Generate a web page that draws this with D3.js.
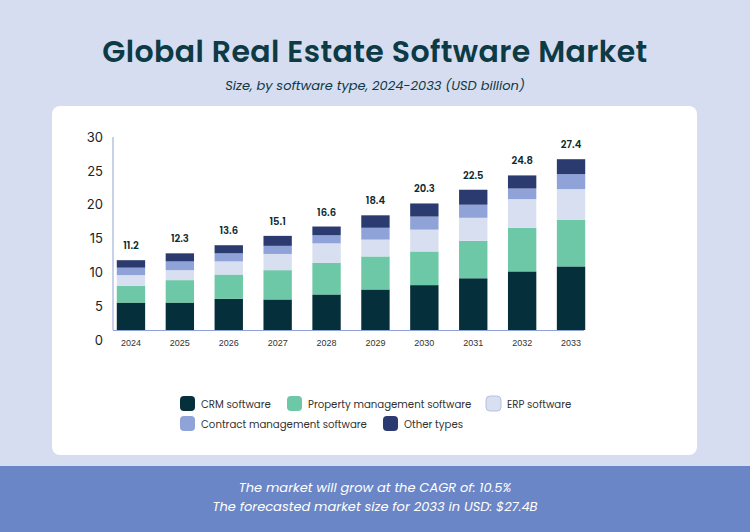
<!DOCTYPE html>
<html><head><meta charset="utf-8">
<script src="https://cdn.jsdelivr.net/npm/d3@7"></script>
<style>body{margin:0;background:#d7ddf0;font-family:Poppins,Inter,"Noto Sans",sans-serif}</style>
</head><body><svg id="c" width="750" height="532"></svg>
<script>
const years = ['2024','2025','2026','2027','2028','2029','2030','2031','2032','2033'];
const crm = [4.4, 4.4, 5.0, 4.9, 5.7, 6.5, 7.2, 8.3, 9.4, 10.2];
const property = [2.7, 3.6, 3.9, 4.7, 5.1, 5.3, 5.4, 6.0, 7.0, 7.5];
const erp = [1.7, 1.6, 2.1, 2.6, 3.1, 2.7, 3.5, 3.7, 4.6, 4.9];
const contract = [1.2, 1.4, 1.3, 1.3, 1.3, 1.9, 2.1, 2.1, 1.7, 2.4];
const other = [1.2, 1.3, 1.3, 1.6, 1.4, 2.0, 2.1, 2.4, 2.1, 2.4];
const totals = [11.2, 12.3, 13.6, 15.1, 16.6, 18.4, 20.3, 22.5, 24.8, 27.4];
const seriesNames = ['CRM software','Property management software','ERP software','Contract management software','Other types'];
const yTicks = [0, 5, 10, 15, 20, 25, 30];

const colors = ['#062f3c', '#6cc8a6', '#d8dff0', '#8fa3d8', '#2b3b70'];
const svg = d3.select('#c');

// card + footer
svg.append('rect').attr('x', 52).attr('y', 106).attr('width', 645).attr('height', 349)
    .attr('rx', 8).attr('fill', '#fff');
svg.append('rect').attr('x', 0).attr('y', 466).attr('width', 750).attr('height', 66).attr('fill', '#6a86c7');

svg.append('text').attr('x', 375).attr('y', 62).attr('text-anchor', 'middle')
    .attr('font-size', 30).attr('font-weight', 600).attr('fill', '#0c3a45').attr('letter-spacing', 0.4)
    .text('Global Real Estate Software Market');
svg.append('text').attr('x', 375).attr('y', 90).attr('text-anchor', 'middle')
    .attr('font-size', 13).attr('font-style', 'italic').attr('fill', '#0c3a45')
    .text('Size, by software type, 2024-2033 (USD billion)');
[['The market will grow at the CAGR of: 10.5%', 492], ['The forecasted market size for 2033 in USD: $27.4B', 511]]
    .forEach(([t, y]) => svg.append('text').attr('x', 375).attr('y', y).attr('text-anchor', 'middle')
        .attr('font-size', 13).attr('font-style', 'italic').attr('fill', '#fff').text(t));

const data = years.map((yr, i) => ({ year: yr, s0: crm[i], s1: property[i], s2: erp[i], s3: contract[i], s4: other[i], total: totals[i] }));
const keys = ['s0', 's1', 's2', 's3', 's4'];
const stacked = d3.stack().keys(keys)(data);

const x = d3.scaleBand().domain(years).range([107, 595]).paddingInner(0.42).paddingOuter(0.2);
const y = d3.scaleLinear().domain([0, 30]).range([330, 143]);
const yLab = d3.scaleLinear().domain([0, 30]).range([340, 137]);

const g = svg.append('g');
stacked.forEach((layer, k) => {
    g.selectAll(null).data(layer).enter().append('rect')
        .attr('x', d => x(d.data.year)).attr('width', x.bandwidth())
        .attr('y', d => y(d[1])).attr('height', d => y(d[0]) - y(d[1]))
        .attr('fill', colors[k]);
});
g.selectAll(null).data(data).enter().append('text')
    .attr('x', d => x(d.year) + x.bandwidth() / 2).attr('y', (d, i) => y(stacked[4][i][1]) - 11)
    .attr('text-anchor', 'middle').attr('font-size', 10).attr('font-weight', 600).attr('fill', '#0c2a33')
    .text(d => d.total);

// axes
const yAxis = svg.append('g').attr('transform', 'translate(113,0)')
    .call(d3.axisLeft(yLab).tickValues(yTicks).tickSize(0).tickPadding(10));
yAxis.select('.domain').remove();
yAxis.selectAll('text').attr('font-size', 13).attr('fill', '#222').attr('font-family', 'Inter,sans-serif');
svg.append('line').attr('x1', 113).attr('x2', 113).attr('y1', 137).attr('y2', 330).attr('stroke', '#8fa3d8');
const xAxis = svg.append('g').attr('transform', 'translate(0,330)')
    .call(d3.axisBottom(x).tickSize(0).tickPadding(10));
xAxis.select('.domain').attr('stroke', '#8fa3d8').attr('d', 'M113,0.5H584');
xAxis.selectAll('text').attr('font-size', 9).attr('fill', '#333');

// legend
const legendPos = [[180, 404], [287, 404], [486, 404], [180, 424], [383, 424]];
seriesNames.forEach((n, i) => {
    const [lx, ly] = legendPos[i];
    svg.append('rect').attr('x', lx).attr('y', ly - 8).attr('width', 15).attr('height', 15).attr('rx', 4)
        .attr('fill', colors[i]).attr('stroke', i === 2 ? '#b8c2dc' : 'none');
    svg.append('text').attr('x', lx + 21).attr('y', ly + 4).attr('font-size', 10.2).attr('fill', '#333').text(n);
});
</script></body></html>
